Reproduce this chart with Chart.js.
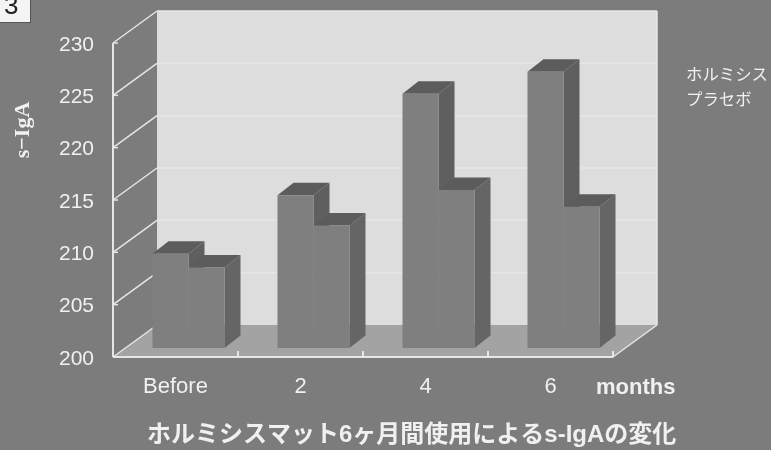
<!DOCTYPE html>
<html>
<head>
<meta charset="utf-8">
<script src="https://cdn.jsdelivr.net/npm/chart.js@4"></script>
<style>
  body { margin: 0; background: #7c7c7c; }
  #box { width: 771px; height: 450px; overflow: hidden; }
</style>
</head>
<body>
<div id="box"><canvas id="chart" width="771" height="450"></canvas></div>
<script>
const months = ["Before", "2", "4", "6"];
const hormesis = [209, 214.6, 224.3, 226.4];
const placebo = [207.7, 211.7, 215.1, 213.5];

const seriesNames = ["ホルミシス", "プラセボ"];
const yTitle = "s−IgA";
const xUnit = "months";
const bottomTitle = "ホルミシスマット6ヶ月間使用によるs-IgAの変化";
const figureNo = "3";

const LATIN = '"Liberation Sans", "Noto Sans CJK JP", sans-serif';
const LINE = "#e6e6e6";

// depth of the box behind the axes, and of each bar inside it
const box3d = { dx: 44, dy: -32 };
const barShift = { dx: 13, dy: -9 };
const barDepth = { dx: 16, dy: -12.5 };

function poly(ctx, color, pts) {
  ctx.fillStyle = color;
  ctx.beginPath();
  pts.forEach(([x, y], i) => (i ? ctx.lineTo(x, y) : ctx.moveTo(x, y)));
  ctx.closePath();
  ctx.fill();
}

function seg(ctx, x1, y1, x2, y2) {
  ctx.beginPath();
  ctx.moveTo(x1, y1);
  ctx.lineTo(x2, y2);
  ctx.stroke();
}

function text(ctx, str, x, y, font, color) {
  ctx.font = font;
  ctx.fillStyle = color || "#f0f0f0";
  ctx.textAlign = "left";
  ctx.textBaseline = "middle";
  ctx.fillText(str, x, y);
}

const box3dPlugin = {
  id: "box3d",
  beforeDatasetsDraw(chart) {
    const ctx = chart.ctx;
    const { left, right, top, bottom } = chart.chartArea;
    const y = chart.scales.y;
    const { dx, dy } = box3d;

    ctx.save();
    // back wall and floor
    poly(ctx, "#dddddd", [[left + dx, top + dy], [right + dx, top + dy], [right + dx, bottom + dy], [left + dx, bottom + dy]]);
    poly(ctx, "#a3a3a3", [[left, bottom], [left + dx, bottom + dy], [right + dx, bottom + dy], [right, bottom]]);

    ctx.strokeStyle = LINE;
    ctx.lineWidth = 1.5;
    y.ticks.forEach((t) => {
      const py = y.getPixelForValue(t.value);
      seg(ctx, left, py, left + dx, py + dy);
      if (t.value > 200) seg(ctx, left + dx, py + dy, right + dx, py + dy);
      seg(ctx, left, py, left + 5, py);
    });
    seg(ctx, right, bottom, right + dx, bottom + dy);
    seg(ctx, right + dx, top + dy, right + dx, bottom + dy);

    // front frame
    ctx.lineWidth = 2;
    seg(ctx, left, top, left, bottom);
    seg(ctx, left, bottom, right, bottom);
    const step = (right - left) / months.length;
    months.forEach((m, i) => seg(ctx, left + step * (i + 1), bottom, left + step * (i + 1), bottom - 6));

    // bars sit inside the box, series by series so the later one covers the earlier side
    ctx.translate(barShift.dx, barShift.dy);
    chart.data.datasets.forEach((ds, d) => {
      chart.getDatasetMeta(d).data.forEach((bar) => {
        const l = bar.x - bar.width / 2;
        const r = bar.x + bar.width / 2;
        const ex = barDepth.dx;
        const ey = barDepth.dy;
        poly(ctx, ds.sideColor, [[r, bar.y], [r + ex, bar.y + ey], [r + ex, bar.base + ey], [r, bar.base]]);
        poly(ctx, ds.capColor, [[l, bar.y], [l + ex, bar.y + ey], [r + ex, bar.y + ey], [r, bar.y]]);
        bar.draw(ctx);
      });
    });
    ctx.restore();
    return false;
  },
  afterDraw(chart) {
    const ctx = chart.ctx;
    ctx.save();
    text(ctx, seriesNames[0], 686, 74, '16.4px "Noto Sans CJK JP"');
    text(ctx, seriesNames[1], 686, 99, '16.4px "Noto Sans CJK JP"');
    text(ctx, xUnit, 596, 388, "bold 22px " + LATIN);
    text(ctx, bottomTitle, 147, 435, "bold 24px " + LATIN);

    ctx.translate(23, 130);
    ctx.rotate(-Math.PI / 2);
    ctx.textAlign = "center";
    ctx.font = 'bold 22px "Liberation Serif", serif';
    ctx.fillStyle = "#f0f0f0";
    ctx.textBaseline = "middle";
    ctx.fillText(yTitle, 0, 0);
    ctx.restore();

    // figure number tab in the corner
    ctx.save();
    ctx.fillStyle = "#f4f4f4";
    ctx.fillRect(0, 0, 30, 22);
    ctx.fillStyle = "#555555";
    ctx.fillRect(30, 0, 1, 23);
    ctx.fillRect(0, 22, 31, 1);
    text(ctx, figureNo, 4, 7, "26px " + LATIN, "#222222");
    ctx.restore();
  },
};

new Chart(document.getElementById("chart"), {
  type: "bar",
  plugins: [box3dPlugin],
  data: {
    labels: months,
    datasets: [
      { label: seriesNames[0], data: hormesis, base: 200, backgroundColor: "#7f7f7f", sideColor: "#5f5f5f", capColor: "#5c5c5c" },
      { label: seriesNames[1], data: placebo, base: 200, backgroundColor: "#7f7f7f", sideColor: "#656565", capColor: "#5c5c5c" },
    ],
  },
  options: {
    responsive: false,
    animation: false,
    layout: { padding: { top: 43, right: 158, bottom: 0, left: 0 } },
    datasets: { bar: { barPercentage: 1, categoryPercentage: 0.576 } },
    plugins: { legend: { display: false }, tooltip: { enabled: false } },
    scales: {
      x: {
        afterFit: (s) => { s.height = 93; },
        grid: { display: false, drawTicks: false },
        border: { display: false },
        ticks: { color: "#f0f0f0", padding: 17, font: { family: LATIN, size: 22 }, maxRotation: 0 },
      },
      y: {
        min: 200,
        max: 230,
        afterFit: (s) => { s.width = 113; },
        grid: { display: false, drawTicks: false },
        border: { display: false },
        ticks: { stepSize: 5, color: "#f0f0f0", padding: 19, labelOffset: 2, font: { family: LATIN, size: 21 } },
      },
    },
  },
});
</script>
</body>
</html>
